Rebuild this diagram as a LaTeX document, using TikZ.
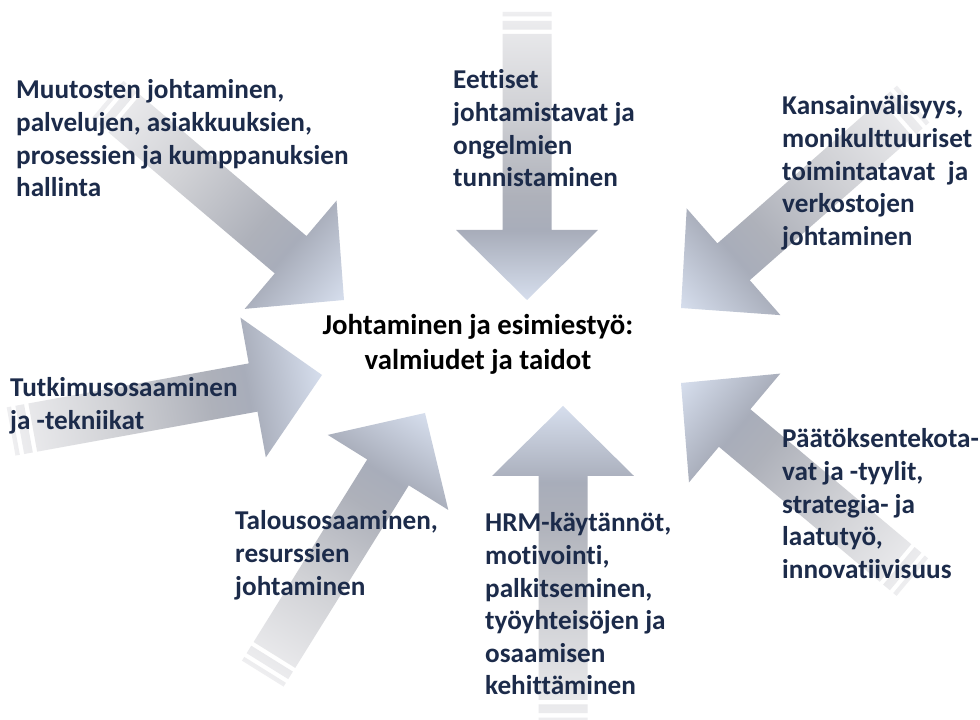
\documentclass[tikz,border=0pt]{standalone}
\usepackage{fontspec}
\setmainfont{Carlito}[Ligatures={NoCommon}]
\usetikzlibrary{calc}
\definecolor{txtnavy}{RGB}{28,43,74}
\definecolor{cTail}{RGB}{238,238,240}
\definecolor{cA}{RGB}{208,209,213}
\definecolor{cB}{RGB}{174,177,186}
\definecolor{cC}{RGB}{168,173,186}
\definecolor{cTip}{RGB}{214,222,237}
\pgfdeclarehorizontalshading{arrowshade}{100bp}{color(0bp)=(cTail); color(25bp)=(cTail); color(42bp)=(cA); color(57bp)=(cB); color(63bp)=(cC); color(75bp)=(cTip); color(100bp)=(cTip)}
\newcommand{\blk}[1]{\begin{tabular}[t]{@{}l@{}}#1\end{tabular}}
\newcommand{\cblk}[1]{\begin{tabular}[t]{@{}c@{}}#1\end{tabular}}
% \bigarrow{name}{tip x}{tip y}{angle}{length}
\newcommand{\bigarrow}[5]{%
  \coordinate (#1) at (#2,#3);
  \begin{scope}[transform canvas={shift={(#2,#3)},rotate=#4}]
    \shade[shading=arrowshade]
      (-#5,-24.5) rectangle ({-#5+4.4},24.5)
      ({-#5+8.8},-24.5) rectangle ({-#5+17.6},24.5)
      ({-#5+22},-24.5) -- (-70,-24.5) -- (-70,-71) -- (0,0) -- (-70,71) -- (-70,24.5) -- ({-#5+22},24.5) -- cycle;
  \end{scope}}
\tikzset{
  lbl/.style={anchor=base west, inner sep=0pt, text=txtnavy,
    font=\fontsize{27.2}{32.6}\selectfont\bfseries},
  ctr/.style={anchor=base, inner sep=0pt, text=black,
    font=\fontsize{28.8}{35}\selectfont\bfseries}
}
\begin{document}
\begin{tikzpicture}[x=1pt,y=1pt]
\useasboundingbox (0,0) rectangle (980,720);
\fill[white] (0,0) rectangle (980,720);
\begin{scope}
\clip (0,0) rectangle (980,720);
\bigarrow{aUL}{344}{420}{-40.3}{310}
\bigarrow{aT}{527}{420}{-90}{288}
\bigarrow{aUR}{681}{412}{-138.7}{309}
\bigarrow{aL}{322}{345}{10.3}{316}
\bigarrow{aLL}{425}{307}{58.1}{307}
\bigarrow{aB}{563}{314}{90}{316}
\bigarrow{aLR}{681}{337}{140}{302}
\end{scope}
\node[lbl] (tUL) at (16,621) {\blk{Muutosten johtaminen,\\palvelujen, asiakkuuksien,\\prosessien ja kumppanuksien\\hallinta}};
\node[lbl] (tT) at (453,631) {\blk{Eettiset\\johtamistavat ja\\ongelmien\\tunnistaminen}};
\node[lbl] (tUR) at (782,605) {\blk{Kansainvälisyys,\\monikulttuuriset\\toimintatavat\ \ ja\\verkostojen\\johtaminen}};
\node[lbl] (tL) at (10,323) {\blk{Tutkimusosaaminen\\ja -tekniikat}};
\node[lbl] (tLL) at (235,190) {\blk{Talousosaaminen,\\resurssien\\johtaminen}};
\node[lbl] (tB) at (485,188) {\blk{HRM-käytännöt,\\motivointi,\\palkitseminen,\\työyhteisöjen ja\\osaamisen\\kehittäminen}};
\node[lbl] (tLR) at (782,272) {\blk{Päätöksentekota-\\vat ja -tyylit,\\strategia- ja\\laatutyö,\\innovatiivisuus}};
\node[ctr] (center) at (478,385) {\cblk{Johtaminen ja esimiestyö:\\valmiudet ja taidot}};
\end{tikzpicture}
\end{document}
